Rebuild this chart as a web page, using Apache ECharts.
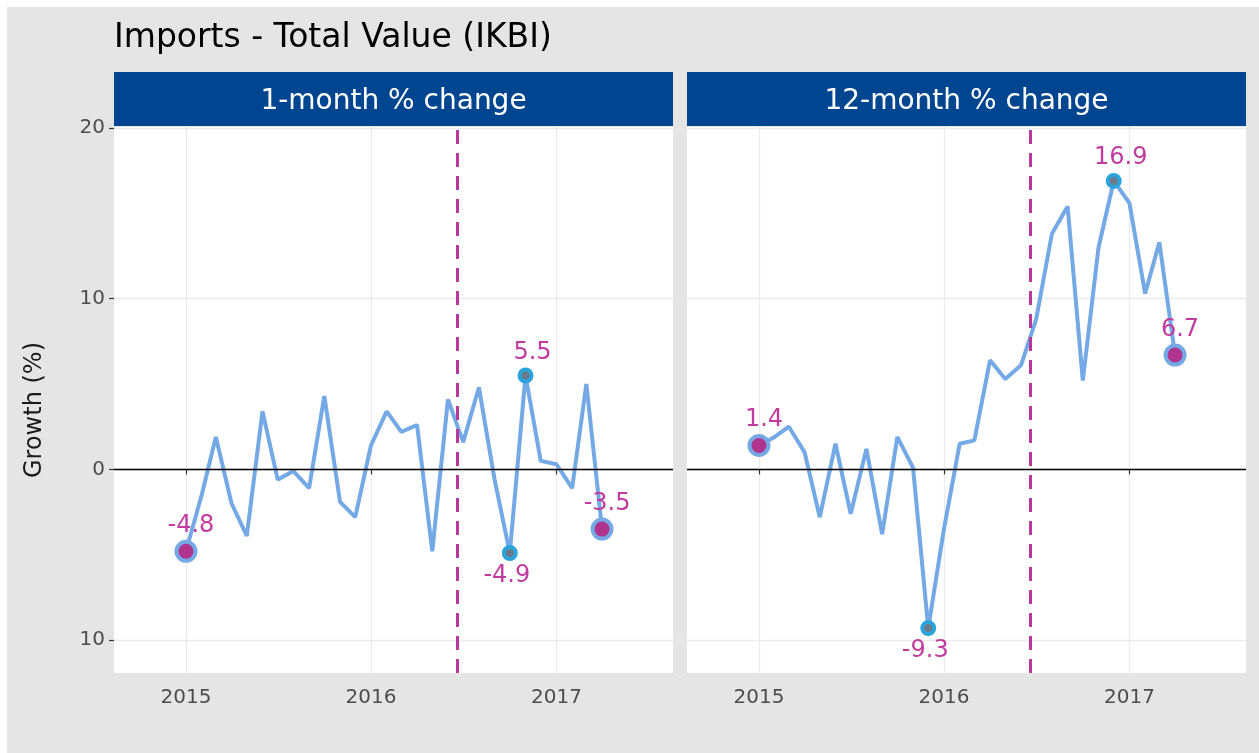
<!DOCTYPE html>
<html>
<head>
<meta charset="utf-8">
<title>Imports - Total Value (IKBI)</title>
<script src="https://cdn.jsdelivr.net/npm/echarts@6/dist/echarts.min.js"></script>
<style>
  body { margin: 0; background: #ffffff; }
  #container { position: absolute; left: 7px; top: 7px; width: 1252px; height: 746px; }
</style>
</head>
<body>
<div id="container"></div>
<script>
// monthly observations, Jan 2015 - Apr 2017
var months = [
  '2015-01-01', '2015-02-01', '2015-03-01', '2015-04-01', '2015-05-01', '2015-06-01',
  '2015-07-01', '2015-08-01', '2015-09-01', '2015-10-01', '2015-11-01', '2015-12-01',
  '2016-01-01', '2016-02-01', '2016-03-01', '2016-04-01', '2016-05-01', '2016-06-01',
  '2016-07-01', '2016-08-01', '2016-09-01', '2016-10-01', '2016-11-01', '2016-12-01',
  '2017-01-01', '2017-02-01', '2017-03-01', '2017-04-01'
];
var oneMonth = [
  -4.8, -1.5, 1.9, -2.0, -3.9, 3.4, -0.6, -0.1, -1.1, 4.3, -1.9, -2.8,
  1.4, 3.4, 2.2, 2.6, -4.8, 4.1, 1.6, 4.8, -0.6, -4.9, 5.5, 0.5,
  0.3, -1.1, 5.0, -3.5
];
var twelveMonth = [
  1.4, 1.9, 2.5, 1.0, -2.8, 1.5, -2.6, 1.2, -3.8, 1.9, 0.1, -9.3,
  -3.5, 1.5, 1.7, 6.4, 5.3, 6.1, 8.8, 13.8, 15.4, 5.2, 13.0, 16.9,
  15.6, 10.3, 13.3, 6.7
];
var panelTitles = ['1-month % change', '12-month % change'];
var yTicks = [-10, 0, 10, 20];
var xTicks = ['2015-01-01', '2016-01-01', '2017-01-01'];
var referendum = '2016-06-20';

var FONT = 'DejaVu Sans';
var LINE = '#74a9e6';
var MAGENTA = '#b8399a';
var LABEL = '#c23b9e';

function ts(d) { return Date.parse(d + 'T00:00:00Z'); }

var dom = document.getElementById('container');
var myChart = echarts.init(dom, null, { renderer: 'canvas' });

function pairs(vals) {
  return vals.map(function (v, i) { return [ts(months[i]), v]; });
}

// first / last points and min / max points of a series
function highlights(vals) {
  var lo = 0, hi = 0;
  vals.forEach(function (v, i) {
    if (v < vals[lo]) lo = i;
    if (v > vals[hi]) hi = i;
  });
  return {
    ends: [0, vals.length - 1].map(function (i) { return [ts(months[i]), vals[i]]; }),
    extremes: [
      { value: [ts(months[hi]), vals[hi]], label: { position: 'top', offset: [7, 0] } },
      { value: [ts(months[lo]), vals[lo]], label: { position: 'bottom', offset: [-3, 0] } }
    ]
  };
}

var gridLeft = [107, 680];
var gridW = 559;
var xTickVals = xTicks.map(ts);

var grids = [], xAxes = [], yAxes = [], series = [], graphics = [];

[oneMonth, twelveMonth].forEach(function (vals, k) {
  grids.push({
    left: gridLeft[k], top: 120, width: gridW, height: 546,
    show: true, backgroundColor: '#ffffff', borderWidth: 0, containLabel: false
  });
  xAxes.push({
    type: 'value', gridIndex: k,
    min: ts('2014-08-12'), max: ts('2017-08-19'),
    axisLine: { show: false },
    axisTick: {
      show: true, length: 5, inside: false,
      lineStyle: { color: '#333333', width: 1.2 },
      customValues: xTickVals
    },
    axisLabel: {
      color: '#4d4d4d', fontFamily: FONT, fontSize: 20, margin: 15,
      customValues: xTickVals,
      formatter: function (v) { return String(new Date(v).getUTCFullYear()); }
    },
    splitLine: { show: true, lineStyle: { color: '#ebebeb', width: 1.3 } }
  });
  yAxes.push({
    type: 'value', gridIndex: k,
    min: -11.93, max: 20.06,
    axisLine: { show: false },
    axisTick: {
      show: k === 0, length: 5, inside: false,
      lineStyle: { color: '#333333', width: 1.2 },
      customValues: yTicks
    },
    axisLabel: {
      show: k === 0, color: '#4d4d4d', fontFamily: FONT, fontSize: 20, margin: 9,
      customValues: yTicks,
      formatter: function (v) { return String(Math.abs(v)); }
    },
    splitLine: { show: true, lineStyle: { color: '#ebebeb', width: 1.3 } }
  });

  series.push({
    type: 'line', xAxisIndex: k, yAxisIndex: k,
    data: pairs(vals),
    showSymbol: false, symbol: 'none',
    lineStyle: { color: LINE, width: 4 },
    z: 3,
    markLine: {
      silent: true, symbol: 'none', label: { show: false },
      data: [
        { yAxis: 0, lineStyle: { color: '#000000', width: 1.3, type: 'solid' } },
        { xAxis: ts(referendum), lineStyle: { color: MAGENTA, width: 3, type: [14, 9] } }
      ]
    }
  });

  var h = highlights(vals);
  series.push({
    type: 'scatter', xAxisIndex: k, yAxisIndex: k,
    data: h.ends,
    symbolSize: 19, z: 6,
    itemStyle: { color: '#b0338e', borderColor: LINE, borderWidth: 4, opacity: 1 },
    label: {
      show: true, position: 'top', distance: 2, offset: [5, 0],
      color: LABEL, fontFamily: FONT, fontSize: 24,
      formatter: function (p) { return p.value[1].toFixed(1); }
    }
  });
  series.push({
    type: 'scatter', xAxisIndex: k, yAxisIndex: k,
    data: h.extremes,
    symbolSize: 12, z: 6,
    itemStyle: { color: '#6b7b8c', borderColor: '#2aa4dc', borderWidth: 4, opacity: 1 },
    label: {
      show: true, distance: 3,
      color: LABEL, fontFamily: FONT, fontSize: 24,
      formatter: function (p) { return p.value[1].toFixed(1); }
    }
  });

  graphics.push({
    type: 'rect', shape: { x: gridLeft[k], y: 65, width: gridW, height: 54 },
    style: { fill: '#00458f' }
  });
  graphics.push({
    type: 'text', x: gridLeft[k] + gridW / 2, y: 95,
    style: {
      text: panelTitles[k], fill: '#ffffff', font: '28px "' + FONT + '"',
      textAlign: 'center', textVerticalAlign: 'middle'
    }
  });
});

graphics.push({
  type: 'text', x: 107, y: 31,
  style: {
    text: 'Imports - Total Value (IKBI)', fill: '#000000', font: '33px "' + FONT + '"',
    textAlign: 'left', textVerticalAlign: 'middle'
  }
});
graphics.push({
  type: 'text', x: 28, y: 403, rotation: Math.PI / 2,
  style: {
    text: 'Growth (%)', fill: '#1a1a1a', font: '24px "' + FONT + '"',
    textAlign: 'center', textVerticalAlign: 'middle'
  }
});

option = {
  backgroundColor: '#e5e5e5',
  animation: false,
  grid: grids,
  xAxis: xAxes,
  yAxis: yAxes,
  series: series,
  graphic: { elements: graphics }
};
myChart.setOption(option);

window.addEventListener('resize', function () {
  myChart.resize();
});
</script>
</body>
</html>
